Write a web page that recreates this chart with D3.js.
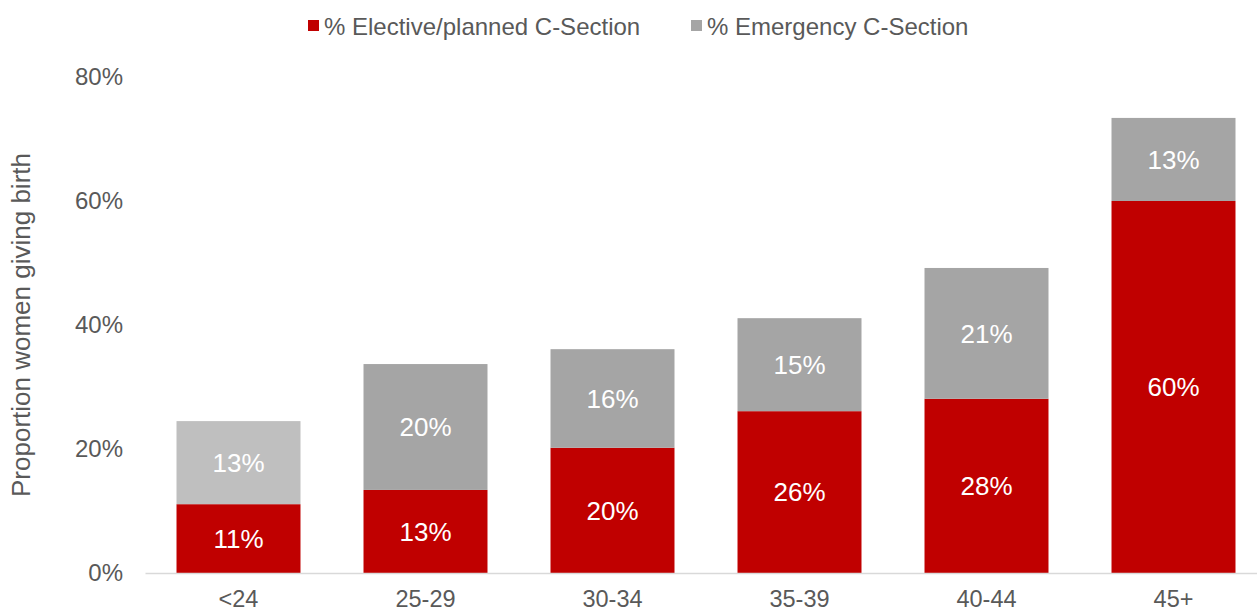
<!DOCTYPE html>
<html>
<head>
<meta charset="utf-8">
<script src="https://cdn.jsdelivr.net/npm/d3@7"></script>
<style>
  body { margin: 0; background: #fff; }
  text { font-family: "Liberation Sans", Arial, sans-serif; }
</style>
</head>
<body>
<svg id="drawing_region"></svg>
<script>
// age groups and stacked values (% of women giving birth)
const ageGroups = ["<24", "25-29", "30-34", "35-39", "40-44", "45+"];
const elective = [11.1, 13.4, 20.2, 26.1, 28.1, 60.0];
const emergency = [13.4, 20.3, 15.9, 15.0, 21.1, 13.4];
const yTicks = [0, 20, 40, 60, 80];
const seriesNames = ["% Elective/planned C-Section", "% Emergency C-Section"];

const config = {
    width: 1257,
    height: 610,
    margin: {top: 77, right: -10, bottom: 37, left: 145}
};

const red = "#C00000";
const grey = "#A5A5A5";
const lightGrey = "#BFBFBF";
const textColor = "#595959";

const svg = d3.select("#drawing_region")
    .attr("width", config.width)
    .attr("height", config.height);

const inner_width = config.width - config.margin.left - config.margin.right;
const inner_height = config.height - config.margin.top - config.margin.bottom;

const chart = svg.append("g")
    .attr("transform", `translate(${config.margin.left}, ${config.margin.top})`);

const xscale = d3.scaleBand()
    .domain(ageGroups)
    .range([0, inner_width])
    .paddingInner(0.337)
    .paddingOuter(0.1685);

const yscale = d3.scaleLinear()
    .domain([0, 80])
    .range([inner_height, 0]);

const data = ageGroups.map((g, i) => ({group: g, elective: elective[i], emergency: emergency[i]}));
const stacked = d3.stack().keys(["elective", "emergency"])(data);

// bars
stacked.forEach((layer, li) => {
    chart.append("g").selectAll("rect")
        .data(layer)
        .join("rect")
        .attr("x", d => xscale(d.data.group))
        .attr("y", d => yscale(d[1]))
        .attr("width", xscale.bandwidth())
        .attr("height", d => yscale(d[0]) - yscale(d[1]))
        .attr("fill", (d, i) => li === 0 ? red : (i === 0 ? lightGrey : grey));

    chart.append("g").selectAll("text")
        .data(layer)
        .join("text")
        .attr("x", d => xscale(d.data.group) + xscale.bandwidth() / 2)
        .attr("y", d => yscale((d[0] + d[1]) / 2))
        .attr("dy", "0.36em")
        .attr("text-anchor", "middle")
        .attr("font-size", "26px")
        .attr("fill", "#fff")
        .text(d => Math.round(d[1] - d[0]) + "%");
});

// x axis
const xaxis_group = chart.append("g")
    .attr("transform", `translate(0, ${inner_height})`)
    .call(d3.axisBottom(xscale).tickSize(0).tickPadding(17));
xaxis_group.select(".domain")
    .attr("stroke", "#D9D9D9")
    .attr("stroke-width", 1.5);
xaxis_group.selectAll("text")
    .attr("font-size", "23.5px")
    .attr("fill", textColor)
    .attr("font-family", "Liberation Sans, Arial, sans-serif");

// y axis
const yaxis_group = chart.append("g")
    .call(d3.axisLeft(yscale).tickValues(yTicks).tickFormat(d => d + "%").tickSize(0).tickPadding(22));
yaxis_group.select(".domain").remove();
yaxis_group.selectAll("text")
    .attr("font-size", "24px")
    .attr("fill", textColor)
    .attr("font-family", "Liberation Sans, Arial, sans-serif");

// y axis title
svg.append("text")
    .attr("transform", `translate(30, ${config.margin.top + yscale(40)}) rotate(-90)`)
    .attr("text-anchor", "middle")
    .attr("font-size", "26px")
    .attr("fill", textColor)
    .text("Proportion women giving birth");

// legend
const legendX = [308, 691];
seriesNames.forEach((name, i) => {
    const g = svg.append("g").attr("transform", `translate(${legendX[i]}, 20)`);
    g.append("rect")
        .attr("width", 11)
        .attr("height", 11)
        .attr("fill", i === 0 ? red : grey);
    g.append("text")
        .attr("x", 16)
        .attr("y", 6)
        .attr("dy", "0.36em")
        .attr("font-size", "24px")
        .attr("fill", textColor)
        .text(name);
});
</script>
</body>
</html>
